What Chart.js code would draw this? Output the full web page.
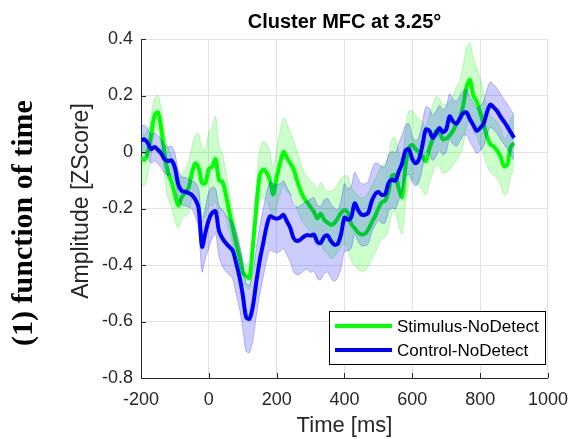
<!DOCTYPE html>
<html>
<head>
<meta charset="utf-8">
<script src="https://cdn.jsdelivr.net/npm/chart.js@4.4.0/dist/chart.umd.min.js"></script>
<style>
  html, body { margin: 0; padding: 0; background: #fff; }
  #wrap { position: relative; width: 579px; height: 439px; }
</style>
</head>
<body>
<div id="wrap"><canvas id="erpChart" width="579" height="439"></canvas></div>
<script>
// time axis, 10 ms steps from -200 to 900
const times = [];
for (let t = -200; t <= 900; t += 10) times.push(t);

const stimMean = [
  -0.020, -0.028, 0.000, 0.060, 0.130, 0.140, 0.080, -0.010, -0.075, -0.105,
  -0.150, -0.190, -0.160, -0.145, -0.128, -0.075, -0.040, -0.055, -0.110, -0.110,
  -0.060, -0.052, -0.025, -0.100, -0.105, -0.150, -0.210, -0.265, -0.320, -0.370,
  -0.425, -0.440, -0.445, -0.330, -0.195, -0.085, -0.062, -0.072, -0.100, -0.150,
  -0.090, -0.040, 0.000, -0.020, -0.040, -0.060, -0.100, -0.135, -0.162, -0.178,
  -0.195, -0.212, -0.235, -0.218, -0.240, -0.250, -0.258, -0.252, -0.235, -0.215,
  -0.205, -0.215, -0.255, -0.270, -0.285, -0.292, -0.290, -0.275, -0.250, -0.228,
  -0.200, -0.178, -0.172, -0.140, -0.085, -0.082, -0.130, -0.160, -0.050, 0.015,
  0.025, 0.010, -0.002, -0.015, -0.032, 0.010, 0.045, 0.075, 0.070, 0.045,
  0.048, 0.058, 0.075, 0.100, 0.120, 0.165, 0.230, 0.255, 0.200, 0.178,
  0.140, 0.100, 0.055, 0.028, 0.020, 0.005, -0.015, -0.050, -0.045, 0.018,
  0.032
];
const stimSem = [
  0.09, 0.09, 0.08, 0.07, 0.06, 0.06, 0.07, 0.08, 0.09, 0.09,
  0.09, 0.08, 0.08, 0.08, 0.09, 0.09, 0.10, 0.12, 0.12, 0.12,
  0.13, 0.14, 0.15, 0.12, 0.10, 0.08, 0.07, 0.06, 0.06, 0.05,
  0.04, 0.04, 0.04, 0.05, 0.07, 0.09, 0.10, 0.10, 0.10, 0.09,
  0.10, 0.11, 0.12, 0.12, 0.11, 0.10, 0.10, 0.10, 0.09, 0.09,
  0.09, 0.10, 0.10, 0.11, 0.11, 0.11, 0.12, 0.12, 0.12, 0.12,
  0.12, 0.13, 0.13, 0.13, 0.13, 0.13, 0.13, 0.13, 0.13, 0.13,
  0.13, 0.13, 0.13, 0.13, 0.13, 0.13, 0.13, 0.13, 0.13, 0.13,
  0.12, 0.12, 0.12, 0.12, 0.12, 0.12, 0.12, 0.12, 0.12, 0.12,
  0.12, 0.12, 0.12, 0.13, 0.13, 0.14, 0.14, 0.13, 0.13, 0.12,
  0.12, 0.11, 0.10, 0.10, 0.10, 0.10, 0.10, 0.10, 0.10, 0.10,
  0.10
];
const ctrlMean = [
  0.041, 0.045, 0.032, 0.010, 0.018, 0.008, -0.006, -0.026, -0.032, -0.030,
  -0.055, -0.115, -0.138, -0.140, -0.145, -0.152, -0.168, -0.200, -0.335, -0.285,
  -0.240, -0.215, -0.210, -0.280, -0.305, -0.322, -0.335, -0.348, -0.390, -0.440,
  -0.505, -0.585, -0.590, -0.545, -0.460, -0.385, -0.325, -0.265, -0.228, -0.232,
  -0.236, -0.232, -0.222, -0.245, -0.268, -0.305, -0.315, -0.310, -0.300, -0.294,
  -0.296, -0.292, -0.318, -0.322, -0.300, -0.295, -0.315, -0.328, -0.325, -0.290,
  -0.232, -0.240, -0.230, -0.182, -0.205, -0.222, -0.222, -0.215, -0.175, -0.150,
  -0.142, -0.152, -0.150, -0.110, -0.098, -0.102, -0.070, -0.040, 0.005, 0.010,
  -0.025, -0.040, -0.025, 0.025, 0.080, 0.075, 0.050, 0.065, 0.085, 0.070,
  0.080, 0.126, 0.108, 0.100, 0.118, 0.138, 0.140, 0.115, 0.095, 0.075,
  0.085, 0.100, 0.140, 0.168, 0.158, 0.145, 0.125, 0.108, 0.090, 0.070,
  0.050
];
const ctrlSem = [
  0.05, 0.05, 0.05, 0.05, 0.05, 0.05, 0.05, 0.05, 0.05, 0.05,
  0.05, 0.05, 0.05, 0.05, 0.05, 0.05, 0.06, 0.07, 0.09, 0.09,
  0.10, 0.09, 0.08, 0.09, 0.10, 0.10, 0.10, 0.10, 0.11, 0.11,
  0.12, 0.12, 0.12, 0.12, 0.12, 0.12, 0.12, 0.12, 0.12, 0.12,
  0.12, 0.12, 0.12, 0.12, 0.12, 0.12, 0.12, 0.12, 0.12, 0.12,
  0.13, 0.13, 0.13, 0.13, 0.13, 0.13, 0.13, 0.13, 0.12, 0.12,
  0.12, 0.11, 0.11, 0.11, 0.11, 0.11, 0.11, 0.11, 0.11, 0.11,
  0.10, 0.10, 0.10, 0.10, 0.10, 0.10, 0.10, 0.10, 0.09, 0.09,
  0.08, 0.08, 0.08, 0.08, 0.08, 0.08, 0.08, 0.08, 0.08, 0.08,
  0.08, 0.08, 0.08, 0.08, 0.08, 0.08, 0.08, 0.08, 0.08, 0.08,
  0.08, 0.08, 0.08, 0.08, 0.08, 0.08, 0.08, 0.08, 0.08, 0.08,
  0.08
];

const xTicks = [-200, 0, 200, 400, 600, 800, 1000];
const xTickLabels = ["-200", "0", "200", "400", "600", "800", "1000"];
const yTicks = [-0.8, -0.6, -0.4, -0.2, 0, 0.2, 0.4];
const yTickLabels = ["-0.8", "-0.6", "-0.4", "-0.2", "0", "0.2", "0.4"];
const seriesNames = ["Stimulus-NoDetect", "Control-NoDetect"];

const pts = (arr, off, sign) => times.map((t, i) => ({ x: t, y: arr[i] + (off ? sign * off[i] : 0) }));
const pick = (ticks, labels, v) => labels[ticks.findIndex(t => Math.abs(t - v) < 1e-6)];

const SANS = "'Liberation Sans', Arial, sans-serif";
const AX = "#262626";

const bandLine = (c) => ({ borderColor: c, borderWidth: 1, pointRadius: 0, tension: 0.3 });

const datasets = [
  { label: "sl", data: pts(stimMean, stimSem, -1), ...bandLine("rgba(0,210,0,0.22)"), fill: false, order: 6 },
  { label: "su", data: pts(stimMean, stimSem, 1), ...bandLine("rgba(0,210,0,0.22)"), fill: 0, backgroundColor: "rgba(0,255,0,0.2)", order: 5 },
  { label: seriesNames[0], data: pts(stimMean), borderColor: "#00ff00", borderWidth: 4, pointRadius: 0, tension: 0.3, fill: false, order: 4 },
  { label: "cl", data: pts(ctrlMean, ctrlSem, -1), ...bandLine("rgba(0,0,255,0.25)"), fill: false, order: 3 },
  { label: "cu", data: pts(ctrlMean, ctrlSem, 1), ...bandLine("rgba(0,0,255,0.25)"), fill: 3, backgroundColor: "rgba(0,0,255,0.2)", order: 2 },
  { label: seriesNames[1], data: pts(ctrlMean), borderColor: "#0000ff", borderWidth: 4, pointRadius: 0, tension: 0.3, fill: false, order: 1 },
];

// titles, inward ticks, legend box
const decor = {
  id: "decor",
  afterDraw(chart) {
    const { ctx, chartArea: a, scales: { x, y } } = chart;
    ctx.save();
    ctx.strokeStyle = AX;
    ctx.lineWidth = 1;
    xTicks.forEach(v => {
      const px = Math.round(x.getPixelForValue(v)) + 0.5;
      ctx.beginPath(); ctx.moveTo(px, a.bottom); ctx.lineTo(px, a.bottom - 5); ctx.stroke();
    });
    yTicks.forEach(v => {
      const py = Math.round(y.getPixelForValue(v)) + 0.5;
      ctx.beginPath(); ctx.moveTo(a.left, py); ctx.lineTo(a.left + 5, py); ctx.stroke();
    });

    const cx = (a.left + a.right) / 2;
    ctx.fillStyle = "#000";
    ctx.textAlign = "center";
    ctx.textBaseline = "middle";
    ctx.font = "bold 20px " + SANS;
    ctx.fillText("Cluster MFC at 3.25°", cx, 22);

    ctx.fillStyle = AX;
    ctx.font = "22px " + SANS;
    ctx.fillText("Time [ms]", cx, 426);

    ctx.save();
    ctx.translate(82, 201);
    ctx.rotate(-Math.PI / 2);
    ctx.font = "23px " + SANS;
    ctx.fillText("Amplitude [ZScore]", 0, 0);
    ctx.restore();

    ctx.save();
    ctx.fillStyle = "#000";
    ctx.translate(24, 223);
    ctx.rotate(-Math.PI / 2);
    ctx.font = "bold 30px 'Liberation Serif', 'Times New Roman', serif";
    ctx.fillText("(1) function of time", 0, 0);
    ctx.restore();

    // legend
    const lx = 329.5, ly = 311.5, lw = 216, lh = 53;
    ctx.fillStyle = "#fff";
    ctx.fillRect(lx, ly, lw, lh);
    ctx.strokeStyle = "#000";
    ctx.strokeRect(lx, ly, lw, lh);
    const rows = [[datasets[2], 326], [datasets[5], 350]];
    ctx.font = "17px " + SANS;
    ctx.textAlign = "left";
    rows.forEach(([ds, ry]) => {
      ctx.strokeStyle = ds.borderColor;
      ctx.lineWidth = 4;
      ctx.beginPath(); ctx.moveTo(335, ry); ctx.lineTo(392, ry); ctx.stroke();
      ctx.fillStyle = "#000";
      ctx.fillText(ds.label, 397, ry + 1);
    });
    ctx.restore();
  }
};

new Chart(document.getElementById("erpChart").getContext("2d"), {
  type: "line",
  data: { datasets },
  options: {
    responsive: false,
    animation: false,
    layout: { padding: { left: 0, top: 39, right: 22, bottom: 0 } },
    plugins: { legend: { display: false }, tooltip: { enabled: false }, filler: { propagate: false } },
    scales: {
      x: {
        type: "linear", min: -200, max: 1000,
        afterBuildTicks: s => { s.ticks = xTicks.map(v => ({ value: v })); },
        afterFit: s => { s.height = 61; },
        grid: { color: "#e3e3e3", drawTicks: false },
        border: { display: true, color: AX, width: 1 },
        ticks: {
          color: AX, font: { family: SANS, size: 18 }, padding: 11, maxRotation: 0, autoSkip: false,
          callback: v => pick(xTicks, xTickLabels, v)
        }
      },
      y: {
        min: -0.8, max: 0.4,
        afterBuildTicks: s => { s.ticks = yTicks.map(v => ({ value: v })); },
        afterFit: s => { s.width = 141; },
        grid: { color: "#e3e3e3", drawTicks: false },
        border: { display: true, color: AX, width: 1 },
        ticks: {
          color: AX, font: { family: SANS, size: 18 }, padding: 8,
          callback: v => pick(yTicks, yTickLabels, v)
        }
      }
    }
  },
  plugins: [decor]
});
</script>
</body>
</html>
